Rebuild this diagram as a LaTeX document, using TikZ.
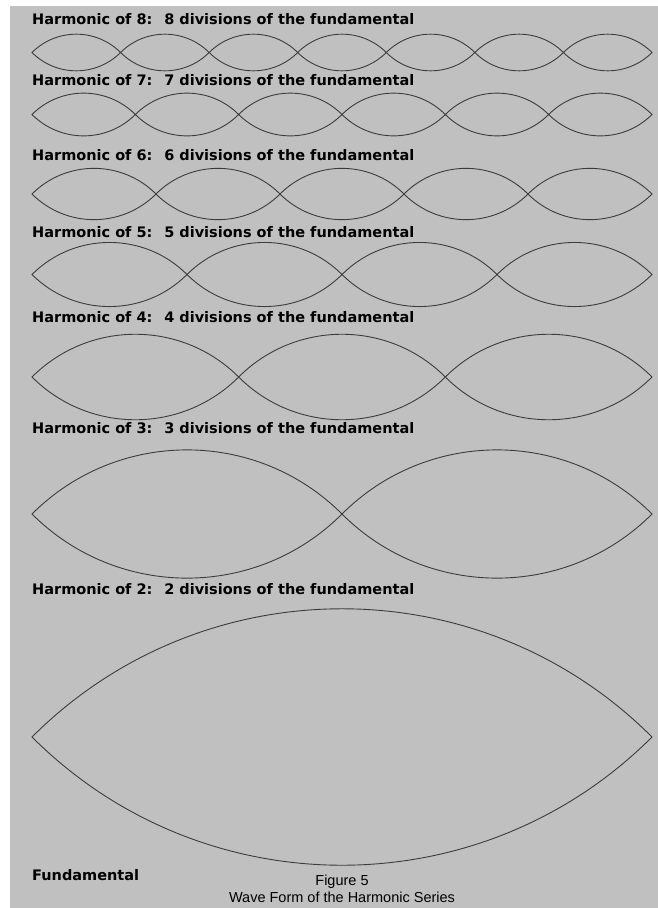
\documentclass[tikz,border=0pt]{standalone}
\usepackage{fontspec}
\setmainfont{Liberation Sans}
\newfontfamily\labelfont{DejaVu Sans}
\usetikzlibrary{positioning}

\definecolor{panelgray}{HTML}{C0C0C0}
\definecolor{waveink}{HTML}{3C3C3C}

\begin{document}
\begin{tikzpicture}[
    x=1pt, y=-1pt,
    wave/.style={draw=waveink, line width=0.9pt, line join=miter},
    harmlabel/.style={anchor=west, inner sep=0pt, font=\labelfont\bfseries\fontsize{14.5}{14.5}\selectfont},
    caption/.style={inner sep=0pt, font=\fontsize{14.5}{14.5}\selectfont}
]

% Frame
\useasboundingbox (0,0) rectangle (658,908);
\fill[white] (0,0) rectangle (658,908);
\fill[panelgray] (10,6) rectangle (658,908);

% Waves: loops / centre line; each loop is a lens of two quarter-circle arcs
\foreach \n/\cy in {7/52.5, 6/114.5, 5/194, 4/274.5, 3/377, 2/514, 1/737} {
  \foreach \k in {1,...,\n} {
    \pgfmathsetmacro\xa{32+620*(\k-1)/\n}
    \pgfmathsetmacro\xb{32+620*\k/\n}
    \draw[wave] (\xa,\cy) to[bend left=45] (\xb,\cy) to[bend left=45] cycle;
  }
}

% Labels
\foreach \h/\ly in {8/19, 7/80.5, 6/155, 5/232, 4/317, 3/428.5, 2/589.5} {
  \node[harmlabel] (harm\h) at (32,\ly) {Harmonic of \h:~ \h\ divisions of the fundamental};
}
\node[harmlabel] (fund) at (32,875) {Fundamental};

% Caption
\node[caption] (figno) at (342,882) {Figure 5};
\node[caption, below=3pt of figno] (figtitle) {Wave Form of the Harmonic Series};

\end{tikzpicture}
\end{document}
